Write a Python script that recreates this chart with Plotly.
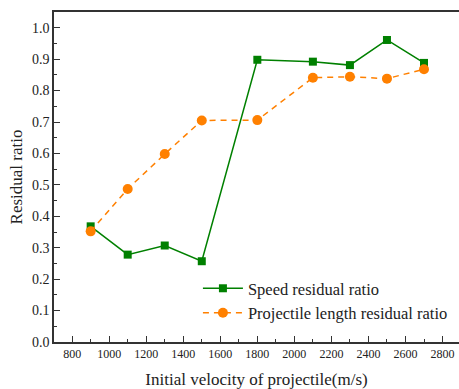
import plotly.graph_objects as go

velocity = [900, 1100, 1300, 1500, 1800, 2100, 2300, 2500, 2700]
speed_ratio = [0.368, 0.278, 0.307, 0.257, 0.898, 0.892, 0.881, 0.961, 0.888]
length_ratio = [0.352, 0.487, 0.598, 0.705, 0.706, 0.841, 0.844, 0.838, 0.868]

x_ticks = [800, 1000, 1200, 1400, 1600, 1800, 2000, 2200, 2400, 2600, 2800]
y_ticks = [0.0, 0.1, 0.2, 0.3, 0.4, 0.5, 0.6, 0.7, 0.8, 0.9, 1.0]

font_family = "Liberation Serif"
text_color = "#222222"

fig = go.Figure()
fig.add_trace(go.Scatter(
    x=velocity, y=speed_ratio, mode="lines+markers",
    name="Speed residual ratio",
    line=dict(color="#008000", width=1.5),
    marker=dict(symbol="square", size=8, color="#008000"),
))
fig.add_trace(go.Scatter(
    x=velocity, y=length_ratio, mode="lines+markers",
    name="Projectile length residual ratio",
    line=dict(color="#FF8000", width=1.5, dash="6px,5px"),
    marker=dict(symbol="circle", size=10, color="#FF8000"),
))

axis_common = dict(
    showgrid=False, zeroline=False, showline=True, linecolor="#333333", linewidth=1.5,
    ticks="inside", ticklen=6, tickwidth=1, tickcolor="#333333", automargin=False,
    ticklabeloverflow="allow",
)

fig.update_layout(
    width=459, height=389,
    margin=dict(l=54, r=0, t=12, b=47),
    paper_bgcolor="white", plot_bgcolor="white",
    font=dict(family=font_family, color=text_color),
    showlegend=True,
    legend=dict(
        x=0.985, y=0.215, xanchor="right", yanchor="top",
        bgcolor="rgba(0,0,0,0)", font=dict(family=font_family, size=16.5, color=text_color),
        itemwidth=40, tracegroupgap=0,
    ),
    xaxis=dict(
        range=[702, 2889], tickvals=x_ticks, mirror=True,
        tickfont=dict(family=font_family, size=12, color=text_color),
        minor=dict(ticks="inside", ticklen=3, dtick=100, tickcolor="#333333"),
        title=dict(text="Initial velocity of projectile(m/s)", font=dict(family=font_family, size=17), standoff=15),
        **axis_common,
    ),
    yaxis=dict(
        range=[0, 1.05], tickvals=y_ticks, tickformat=".1f",
        tickfont=dict(family=font_family, size=14, color=text_color),
        minor=dict(ticks="inside", ticklen=3, dtick=0.05, tickcolor="#333333"),
        title=dict(text="Residual ratio", font=dict(family=font_family, size=17), standoff=5),
        **axis_common,
    ),
)

fig.write_html(
    "out.html",
    config={"displayModeBar": False},
    post_script="document.documentElement.style.margin='0';document.body.style.margin='0';"
                "document.body.style.overflow='hidden';document.documentElement.style.overflow='hidden';",
)
